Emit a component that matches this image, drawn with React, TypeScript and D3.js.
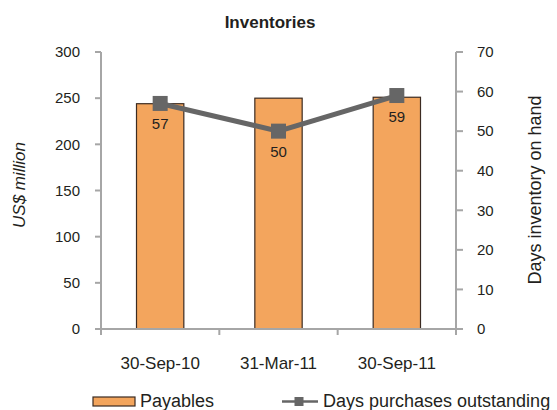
import { useEffect } from 'react';
import * as d3 from 'd3';

const categories = ['30-Sep-10', '31-Mar-11', '30-Sep-11'];
const payables = [244, 250, 251];
const daysOutstanding = [57, 50, 59];
const leftTicks = [0, 50, 100, 150, 200, 250, 300];
const rightTicks = [0, 10, 20, 30, 40, 50, 60, 70];

const W = 557;
const H = 410;
const margin = { top: 52, right: 101, bottom: 81, left: 101 };

const BAR_FILL = '#F3A55D';
const BAR_STROKE = '#3b2b22';
const AXIS = '#a6a6a6';
const LINE = '#666666';
const TEXT = '#231f20';
const FONT = '"Liberation Sans", Arial, sans-serif';

export default function App() {
  useEffect(() => {
    document.body.style.margin = '0';
  }, []);

  const x0 = margin.left;
  const x1 = W - margin.right;
  const yTop = margin.top;
  const yBottom = H - margin.bottom;

  const x = d3.scaleBand<string>().domain(categories).range([x0, x1]).padding(0);
  const yLeft = d3.scaleLinear().domain([0, 300]).range([yBottom, yTop]);
  const yRight = d3.scaleLinear().domain([0, 70]).range([yBottom, yTop]);

  const barW = x.bandwidth() * 0.4;
  const cx = (c: string) => (x(c) ?? 0) + x.bandwidth() / 2;

  const linePath = d3.line<number>()
    .x((_, i) => cx(categories[i]))
    .y(d => yRight(d))(daysOutstanding) ?? '';

  const bandEdges = [...categories.map(c => x(c) ?? 0), x1];

  return (
    <svg width={W} height={H} style={{ display: 'block', fontFamily: FONT }}>
      {/* title */}
      <text x={270} y={28} textAnchor="middle" fontWeight="bold" fontSize={17} fill={TEXT}>
        Inventories
      </text>

      {/* bars */}
      {categories.map((c, i) => (
        <rect
          key={c}
          x={cx(c) - barW / 2}
          y={yLeft(payables[i])}
          width={barW}
          height={yBottom - yLeft(payables[i])}
          fill={BAR_FILL}
          stroke={BAR_STROKE}
          strokeWidth={1.2}
        />
      ))}

      {/* axes */}
      <g stroke={AXIS} strokeWidth={2} fill="none">
        <line x1={x0} y1={yTop} x2={x0} y2={yBottom} />
        <line x1={x1} y1={yTop} x2={x1} y2={yBottom} />
        <line x1={x0} y1={yBottom} x2={x1} y2={yBottom} />
        {leftTicks.map(t => (
          <line key={'l' + t} x1={x0 - 6} x2={x0} y1={yLeft(t)} y2={yLeft(t)} />
        ))}
        {rightTicks.map(t => (
          <line key={'r' + t} x1={x1} x2={x1 + 7} y1={yRight(t)} y2={yRight(t)} />
        ))}
        {bandEdges.map((e, i) => (
          <line key={'b' + i} x1={e} x2={e} y1={yBottom} y2={yBottom + 6} />
        ))}
      </g>

      <g fontSize={15} fill={TEXT}>
        {leftTicks.map(t => (
          <text key={'lt' + t} x={80} y={yLeft(t)} dy="0.35em" textAnchor="end">{t}</text>
        ))}
        {rightTicks.map(t => (
          <text key={'rt' + t} x={477} y={yRight(t)} dy="0.35em" textAnchor="start">{t}</text>
        ))}
      </g>

      <g fontSize={17} fill={TEXT}>
        {categories.map(c => (
          <text key={'x' + c} x={cx(c)} y={369} textAnchor="middle">{c}</text>
        ))}
      </g>

      {/* axis titles */}
      <text transform="translate(25,185) rotate(-90)" textAnchor="middle" fontSize={17} fontStyle="italic" fill={TEXT}>
        US$ million
      </text>
      <text transform="translate(541,190) rotate(-90)" textAnchor="middle" fontSize={18} fill={TEXT}>
        Days inventory on hand
      </text>

      {/* line series */}
      <path d={linePath} fill="none" stroke={LINE} strokeWidth={5} />
      {daysOutstanding.map((d, i) => (
        <rect key={'m' + i} x={cx(categories[i]) - 7.5} y={yRight(d) - 7.5} width={15} height={15} fill={LINE} />
      ))}
      {daysOutstanding.map((d, i) => (
        <text key={'dl' + i} x={cx(categories[i])} y={yRight(d) + 26} textAnchor="middle" fontSize={15} fill={TEXT}>
          {d}
        </text>
      ))}

      {/* legend */}
      <rect x={93} y={397} width={42} height={9} fill={BAR_FILL} stroke={BAR_STROKE} strokeWidth={1.2} />
      <text x={140} y={407} fontSize={18} fill={TEXT}>Payables</text>
      <line x1={282} x2={318} y1={401.5} y2={401.5} stroke={LINE} strokeWidth={2.5} />
      <rect x={294.5} y={397} width={9} height={9} fill={LINE} />
      <text x={323} y={407} fontSize={18} fill={TEXT}>Days purchases outstanding</text>
    </svg>
  );
}
